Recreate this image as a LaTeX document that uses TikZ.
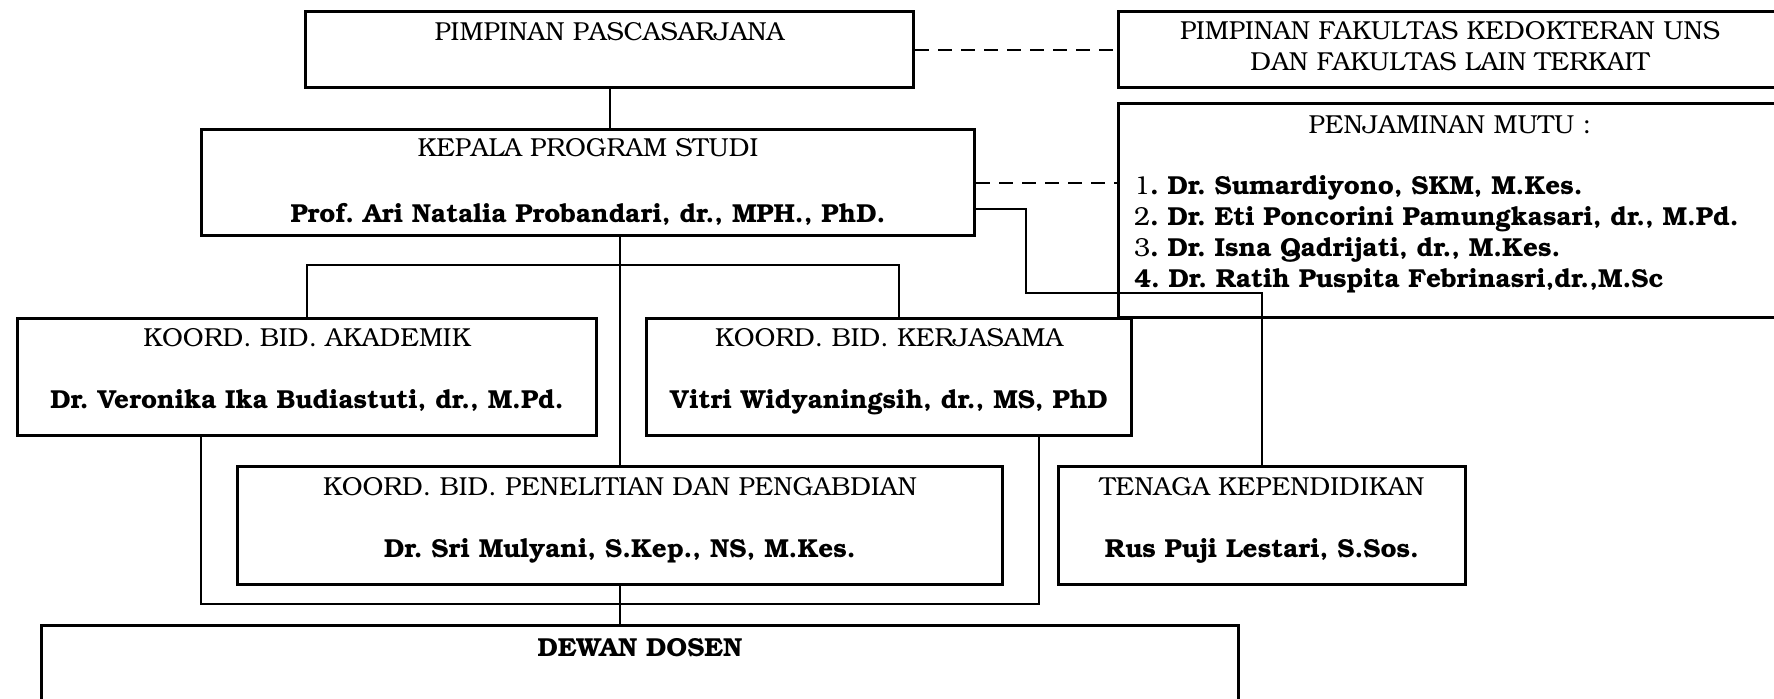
\documentclass[tikz,border=0pt]{standalone}
\usepackage[T1]{fontenc}
\usepackage{bookman}
\usepackage{tikz}
\tikzstyle{unit} = [rectangle, draw=black, line width=1.5pt, anchor=north west, align=center, inner sep=0pt, font=\fontsize{13}{15.5}\selectfont\frenchspacing]
\tikzstyle{link} = [line width=1pt]
\tikzstyle{dashlink} = [line width=1pt, dash pattern=on 7pt off 4.5pt]

\begin{document}
\begin{tikzpicture}[x=0.5pt, y=-0.5pt]
		\path[use as bounding box, fill=white] (0,0) rectangle (1774,698);
		% top row
		\node (pp) [unit, minimum width=304pt, minimum height=38pt] at (304,10) {PIMPINAN PASCASARJANA\\[3pt]\mbox{}};
		\node (pf) [unit, minimum width=331.5pt, minimum height=38pt] at (1117,10) {PIMPINAN FAKULTAS KEDOKTERAN UNS\\DAN FAKULTAS LAIN TERKAIT\\[-12pt]\mbox{}};
		\node (pm) [unit, minimum width=331.5pt, minimum height=107pt, text width=316pt, align=left] at (1117,102) {\makebox[\linewidth]{PENJAMINAN MUTU :}\\[15pt]
			1\textbf{. Dr. Sumardiyono, SKM, M.Kes.}\\
			2\textbf{. Dr. Eti Poncorini Pamungkasari, dr., M.Pd.}\\
			3\textbf{. Dr. Isna Qadrijati, dr., M.Kes.}\\
			\textbf{4. Dr. Ratih Puspita Febrinasri,dr.,M.Sc}\\[-6pt]\mbox{}};
		\node (kps) [unit, minimum width=386.5pt, minimum height=53pt] at (200,128) {KEPALA PROGRAM STUDI\\[17.5pt]\textbf{Prof. Ari Natalia Probandari, dr., MPH., PhD.}};
		% koordinator
		\node (kba) [unit, minimum width=289.5pt, minimum height=58.5pt] at (16,317) {KOORD. BID. AKADEMIK\\[15.5pt]\textbf{Dr. Veronika Ika Budiastuti, dr., M.Pd.}\\[-7pt]\mbox{}};
		\node (kbk) [unit, minimum width=242.5pt, minimum height=58.5pt] at (645,317) {KOORD. BID. KERJASAMA\\[15.5pt]\textbf{Vitri Widyaningsih, dr., MS, PhD}\\[-7pt]\mbox{}};
		\node (kpp) [unit, minimum width=382.5pt, minimum height=59pt] at (236,465) {KOORD. BID. PENELITIAN DAN PENGABDIAN\\[15.5pt]\textbf{Dr. Sri Mulyani, S.Kep., NS, M.Kes.}\\[-7pt]\mbox{}};
		\node (tk) [unit, minimum width=203.5pt, minimum height=59pt] at (1057,465) {TENAGA KEPENDIDIKAN\\[15.5pt]\textbf{Rus Puji Lestari, S.Sos.}\\[-7pt]\mbox{}};
		\node (dd) [unit, minimum width=598.5pt, inner ysep=6pt, text depth=60pt] at (40,624) {\textbf{DEWAN DOSEN}};
		% connectors
		\coordinate (bar) at (0,265);
		\coordinate (kbkup) at ([xshift=5pt]kbk.north);
		\coordinate (tkbend) at (1026,293);
		\coordinate (lowleft) at (201,604);
		\coordinate (lowright) at (1039,604);
		\draw [link] (pp.south) -- (pp.south |- kps.north);
		\draw [dashlink] (pp.east) -- (pf.west);
		\draw [dashlink] (kps.east) -- (kps.east -| pm.west);
		\draw [link] ([yshift=-13pt]kps.east) -| (tkbend) -| (tk.north);
		\draw [link] (kba.north) |- (kbkup |- bar) -- (kbkup);
		\draw [link] (kps.south -| kpp.north) -- (kpp.north);
		\draw [link] (lowleft |- kba.south) -- (lowleft) -- (lowright) -- (lowright |- kbk.south);
		\draw [link] (kpp.south) -- (kpp.south |- dd.north);
\end{tikzpicture}
\end{document}
